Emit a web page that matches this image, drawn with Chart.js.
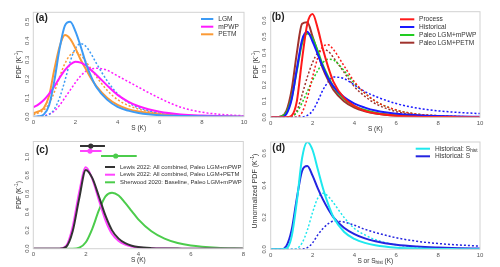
<!DOCTYPE html>
<html><head><meta charset="utf-8">
<script src="https://cdn.jsdelivr.net/npm/chart.js@4.4.1/dist/chart.umd.min.js"></script>
<style>
html,body{margin:0;padding:0;background:#fff;}
#wrap{position:relative;width:500px;height:267px;}
#wrap canvas{position:absolute;}
</style></head><body>
<div id="wrap">
<canvas id="pa" width="250" height="133" style="left:0;top:0"></canvas>
<canvas id="pb" width="250" height="133" style="left:250px;top:0"></canvas>
<canvas id="pc" width="250" height="134" style="left:0;top:133px"></canvas>
<canvas id="pd" width="250" height="134" style="left:250px;top:133px"></canvas>
</div>
<script>
// S values (K) where the curves were read, panels a, b, d
const sGrid = [0,0.25,0.5,0.75,1,1.25,1.5,1.75,2,2.25,2.5,2.75,3,3.5,4,4.5,5,6,7,8,9,10];
// panel c
const sGridC = [0,0.5,1,1.25,1.5,1.75,2,2.25,2.5,2.75,3,3.25,3.5,3.75,4,4.5,5,5.5,6,7,8];

// (a) solid and dotted pdfs
const aLgm   = [0,0.002,0.012,0.06,0.19,0.36,0.48,0.5,0.45,0.37,0.28,0.21,0.155,0.09,0.052,0.032,0.02,0.008,0.004,0.002,0.001,0];
const aMpwp  = [0.049,0.065,0.088,0.12,0.16,0.205,0.245,0.275,0.29,0.285,0.27,0.245,0.22,0.165,0.115,0.08,0.055,0.026,0.012,0.006,0.003,0.001];
const aPetm  = [0.018,0.028,0.045,0.11,0.25,0.37,0.43,0.41,0.36,0.3,0.25,0.2,0.16,0.1,0.062,0.04,0.027,0.012,0.006,0.003,0.001,0];
const aLgmD  = [0,0,0.003,0.012,0.04,0.1,0.19,0.29,0.36,0.385,0.37,0.33,0.28,0.19,0.12,0.075,0.047,0.018,0.007,0.003,0.001,0];
const aMpwpD = [0,0.001,0.004,0.013,0.03,0.06,0.1,0.14,0.18,0.215,0.24,0.252,0.255,0.245,0.215,0.185,0.155,0.097,0.05,0.024,0.011,0.005];
const aPetmD = [0.01,0.02,0.035,0.07,0.13,0.21,0.28,0.325,0.34,0.325,0.29,0.25,0.21,0.14,0.09,0.06,0.04,0.017,0.007,0.003,0.001,0];

// (b)
const bProc  = [0,0,0,0,0.01,0.1,0.36,0.58,0.64,0.55,0.42,0.31,0.22,0.12,0.07,0.04,0.025,0.01,0.004,0.002,0.001,0];
const bHist  = [0,0,0,0.02,0.11,0.3,0.48,0.53,0.47,0.39,0.31,0.24,0.19,0.125,0.085,0.06,0.042,0.022,0.013,0.008,0.005,0.003];
const bPm    = [0,0,0.005,0.03,0.12,0.29,0.46,0.52,0.49,0.41,0.32,0.25,0.19,0.115,0.07,0.045,0.028,0.012,0.005,0.002,0.001,0];
const bPp    = [0,0,0.005,0.04,0.17,0.4,0.58,0.59,0.5,0.4,0.3,0.23,0.17,0.1,0.06,0.038,0.024,0.01,0.004,0.002,0.001,0];
const bProcD = [0,0,0,0,0,0.002,0.03,0.12,0.25,0.37,0.44,0.45,0.42,0.32,0.22,0.15,0.1,0.045,0.02,0.01,0.005,0.002];
const bHistD = [0,0,0,0,0,0,0.002,0.012,0.04,0.1,0.17,0.22,0.25,0.24,0.2,0.16,0.13,0.085,0.057,0.04,0.03,0.023];
const bPmD   = [0,0,0,0,0.005,0.03,0.09,0.16,0.23,0.29,0.34,0.36,0.355,0.29,0.21,0.15,0.1,0.045,0.02,0.009,0.004,0.002];
const bPpD   = [0,0,0,0,0.005,0.04,0.14,0.25,0.34,0.4,0.42,0.41,0.37,0.28,0.19,0.13,0.085,0.035,0.015,0.007,0.003,0.001];

// (c)
const cLm = [0,0,0,0.02,0.19,0.55,0.86,0.77,0.57,0.36,0.2,0.11,0.06,0.033,0.018,0.006,0.002,0.001,0,0,0];
const cLp = [0,0,0,0.03,0.24,0.62,0.89,0.76,0.53,0.31,0.16,0.085,0.045,0.024,0.013,0.004,0.001,0,0,0,0];
const cSh = [0,0,0,0,0,0.01,0.07,0.22,0.42,0.57,0.61,0.58,0.5,0.41,0.32,0.19,0.11,0.062,0.035,0.011,0.003];
// ranges drawn above the curves in (c)
const cBarY   = [1.12, 1.065, 1.012];
const cBarLo  = [1.78, 1.78, 2.58];
const cBarMid = [2.19, 2.16, 3.14];
const cBarHi  = [2.73, 2.6, 3.94];

// (d)
const dHistS  = [0,0,0,0.005,0.08,0.3,0.57,0.67,0.62,0.5,0.38,0.28,0.2,0.11,0.065,0.04,0.025,0.01,0.005,0.002,0.001,0];
const dHist   = [0,0,0,0.02,0.12,0.32,0.49,0.52,0.46,0.38,0.31,0.25,0.2,0.135,0.095,0.068,0.05,0.028,0.017,0.011,0.007,0.005];
const dHistSD = [0,0,0,0,0,0.005,0.04,0.12,0.23,0.32,0.35,0.33,0.29,0.2,0.13,0.09,0.06,0.028,0.014,0.008,0.005,0.003];
const dHistD  = [0,0,0,0,0,0,0.002,0.01,0.04,0.09,0.13,0.16,0.175,0.17,0.15,0.125,0.105,0.072,0.05,0.036,0.027,0.02];

const xTicks10 = [0,2,4,6,8,10];
const xTicks8 = [0,2,4,6,8];
const yTicksA = [0,0.1,0.2,0.3,0.4,0.5];
const yTicksB = [0,0.1,0.2,0.3,0.4,0.5,0.6];
const yTicksC = [0,0.2,0.4,0.6,0.8,1.0];
const yTicksD = [0,0.2,0.4,0.6];

const legA = ['LGM', 'mPWP', 'PETM'];
const legB = ['Process', 'Historical', 'Paleo LGM+mPWP', 'Paleo LGM+PETM'];
const legC = ['Lewis 2022: All combined, Paleo LGM+mPWP', 'Lewis 2022: All combined, Paleo LGM+PETM', 'Sherwood 2020: Baseline, Paleo LGM+mPWP'];
const legD = ['Historical: S_{hist}', 'Historical: S'];

const FONT = '"Liberation Sans", Arial, sans-serif';

function lineDs(label, xs, ys, color, dotted){
  return {
    label: label,
    data: xs.map((x, i) => ({x: x, y: ys[i]})),
    borderColor: color, backgroundColor: color,
    borderWidth: dotted ? 1.5 : 2,
    borderDash: dotted ? [2, 2] : [],
    pointRadius: 0, cubicInterpolationMode: 'monotone', fill: false
  };
}

function barDs(i, color){
  return {
    data: [{x: cBarLo[i], y: cBarY[i]}, {x: cBarMid[i], y: cBarY[i]}, {x: cBarHi[i], y: cBarY[i]}],
    borderColor: color, backgroundColor: color, borderWidth: 2,
    pointRadius: [0, 1.6, 0], tension: 0, fill: false
  };
}

function richText(ctx, str, x, y, size, align){
  const parts = [];
  const re = /([_^])\{([^}]*)\}/g;
  let last = 0, m;
  while((m = re.exec(str))){
    if(m.index > last) parts.push({t: str.slice(last, m.index), k: ''});
    parts.push({t: m[2], k: m[1]});
    last = re.lastIndex;
  }
  if(last < str.length) parts.push({t: str.slice(last), k: ''});
  let w = 0;
  parts.forEach(p => {
    p.s = p.k ? size * 0.72 : size;
    ctx.font = p.s + 'px ' + FONT;
    p.w = ctx.measureText(p.t).width;
    w += p.w;
  });
  let cx = align === 'center' ? x - w / 2 : x;
  ctx.textAlign = 'left';
  ctx.textBaseline = 'middle';
  parts.forEach(p => {
    ctx.font = p.s + 'px ' + FONT;
    const dy = p.k === '_' ? size * 0.3 : (p.k === '^' ? -size * 0.35 : 0);
    ctx.fillText(p.t, cx, y + dy);
    cx += p.w;
  });
}

// box, panel letter, axis titles, legend
const deco = {
  id: 'deco',
  afterDraw(chart, args, o){
    const ctx = chart.ctx, a = chart.chartArea;
    ctx.save();
    ctx.strokeStyle = '#d2d2d2';
    ctx.lineWidth = 1;
    ctx.strokeRect(a.left, a.top, a.right - a.left, a.bottom - a.top);

    ctx.fillStyle = '#222';
    ctx.font = 'bold 10px ' + FONT;
    ctx.textAlign = 'left';
    ctx.textBaseline = 'middle';
    ctx.fillText(o.letter, o.letterX, o.letterY);

    ctx.fillStyle = '#333';
    richText(ctx, o.xTitle, (a.left + a.right) / 2, a.bottom + 11.5, 6.5, 'center');
    ctx.save();
    ctx.translate(o.yTitleX, o.yTitleY != null ? o.yTitleY : (a.top + a.bottom) / 2);
    ctx.rotate(-Math.PI / 2);
    richText(ctx, o.yTitle, 0, 0, o.yTitleSize || 6.6, 'center');
    ctx.restore();

    o.legend.forEach((lab, i) => {
      const y = o.legY[i];
      ctx.strokeStyle = chart.data.datasets[i].borderColor;
      ctx.lineWidth = 2;
      ctx.setLineDash([]);
      ctx.beginPath();
      ctx.moveTo(o.legX0, y);
      ctx.lineTo(o.legX1, y);
      ctx.stroke();
      ctx.fillStyle = '#333';
      richText(ctx, lab, o.legTX, y, o.legSize, 'left');
    });
    ctx.restore();
  }
};

function makeChart(id, p){
  return new Chart(document.getElementById(id), {
    type: 'line',
    data: { datasets: p.datasets },
    options: {
      responsive: false, animation: false, devicePixelRatio: 1,
      layout: { padding: { left: 0, top: p.top, right: p.W - p.right, bottom: 0 } },
      plugins: { legend: { display: false }, tooltip: { enabled: false }, deco: p.deco },
      scales: {
        x: {
          type: 'linear', min: 0, max: p.xMax,
          grid: { display: false, drawTicks: false }, border: { display: false },
          afterBuildTicks: s => { s.ticks = p.xTicks.map(v => ({value: v})); },
          afterFit: s => { s.height = p.H - p.bottom; },
          ticks: { padding: 2, autoSkip: false, minRotation: 0, maxRotation: 0, color: '#555',
                   font: { size: 6, family: FONT }, callback: v => String(v) }
        },
        y: {
          type: 'linear', min: 0, max: p.yMax,
          grid: { display: false, drawTicks: false }, border: { display: false },
          afterBuildTicks: s => { s.ticks = p.yTicks.map(v => ({value: v})); },
          afterFit: s => { s.width = p.left; },
          ticks: { padding: 2, autoSkip: false, minRotation: 90, maxRotation: 90, crossAlign: 'center',
                   color: '#555', font: { size: 6, family: FONT }, callback: v => v.toFixed(1) }
        }
      }
    },
    plugins: [deco]
  });
}

makeChart('pa', {
  W: 250, H: 133, left: 33.3, right: 244, top: 12.3, bottom: 116.7,
  xMax: 10, yMax: 0.55, xTicks: xTicks10, yTicks: yTicksA,
  datasets: [
    lineDs(legA[0], sGrid, aLgm, '#3d9bf5', false),
    lineDs(legA[1], sGrid, aMpwp, '#ff1aff', false),
    lineDs(legA[2], sGrid, aPetm, '#fb9a35', false),
    lineDs(legA[0], sGrid, aLgmD, '#3d9bf5', true),
    lineDs(legA[1], sGrid, aMpwpD, '#ff1aff', true),
    lineDs(legA[2], sGrid, aPetmD, '#fb9a35', true)
  ],
  deco: { letter: '(a)', letterX: 35.5, letterY: 18.5, xTitle: 'S (K)', yTitle: 'PDF (K^{-1})', yTitleX: 19,
          legend: legA, legSize: 6.6, legX0: 201, legX1: 213.3, legTX: 218.3, legY: [19, 26.7, 34.3] }
});

makeChart('pb', {
  W: 250, H: 133, left: 20.7, right: 230, top: 11.7, bottom: 117.3,
  xMax: 10, yMax: 0.655, xTicks: xTicks10, yTicks: yTicksB,
  datasets: [
    lineDs(legB[0], sGrid, bProc, '#ff1a1a', false),
    lineDs(legB[1], sGrid, bHist, '#1a1aff', false),
    lineDs(legB[2], sGrid, bPm, '#22cc22', false),
    lineDs(legB[3], sGrid, bPp, '#a0322d', false),
    lineDs(legB[0], sGrid, bProcD, '#ff1a1a', true),
    lineDs(legB[1], sGrid, bHistD, '#1a1aff', true),
    lineDs(legB[2], sGrid, bPmD, '#22cc22', true),
    lineDs(legB[3], sGrid, bPpD, '#a0322d', true)
  ],
  deco: { letter: '(b)', letterX: 21.7, letterY: 17.5, xTitle: 'S (K)', yTitle: 'PDF (K^{-1})', yTitleX: 6,
          legend: legB, legSize: 6.6, legX0: 150, legX1: 164.3, legTX: 169, legY: [19.3, 27, 35, 42.7] }
});

makeChart('pc', {
  W: 250, H: 134, left: 33.3, right: 243.3, top: 8.5, bottom: 115.7,
  xMax: 8, yMax: 1.17, xTicks: xTicks8, yTicks: yTicksC,
  datasets: [
    lineDs(legC[0], sGridC, cLm, '#333333', false),
    lineDs(legC[1], sGridC, cLp, '#ff44ff', false),
    lineDs(legC[2], sGridC, cSh, '#4ccc4c', false),
    barDs(0, '#333333'),
    barDs(1, '#ff44ff'),
    barDs(2, '#4ccc4c')
  ],
  deco: { letter: '(c)', letterX: 36, letterY: 17.3, xTitle: 'S (K)', yTitle: 'PDF (K^{-1})', yTitleX: 19,
          legend: legC, legSize: 5.9, legX0: 105, legX1: 115, legTX: 120, legY: [34, 41.7, 49.3] }
});

makeChart('pd', {
  W: 250, H: 134, left: 20.7, right: 230, top: 9, bottom: 116.3,
  xMax: 10, yMax: 0.67, xTicks: xTicks10, yTicks: yTicksD,
  datasets: [
    lineDs(legD[0], sGrid, dHistS, '#1ee8ee', false),
    lineDs(legD[1], sGrid, dHist, '#2424e0', false),
    lineDs(legD[0], sGrid, dHistSD, '#1ee8ee', true),
    lineDs(legD[1], sGrid, dHistD, '#2424e0', true)
  ],
  deco: { letter: '(d)', letterX: 22.3, letterY: 15, xTitle: 'S or S_{hist} (K)', yTitle: 'Unnormalized PDF (K^{-1})',
          yTitleX: 5.5, yTitleY: 58, yTitleSize: 7,
          legend: legD, legSize: 6.6, legX0: 165.7, legX1: 180, legTX: 185, legY: [15.7, 23.3] }
});
</script>
</body></html>
